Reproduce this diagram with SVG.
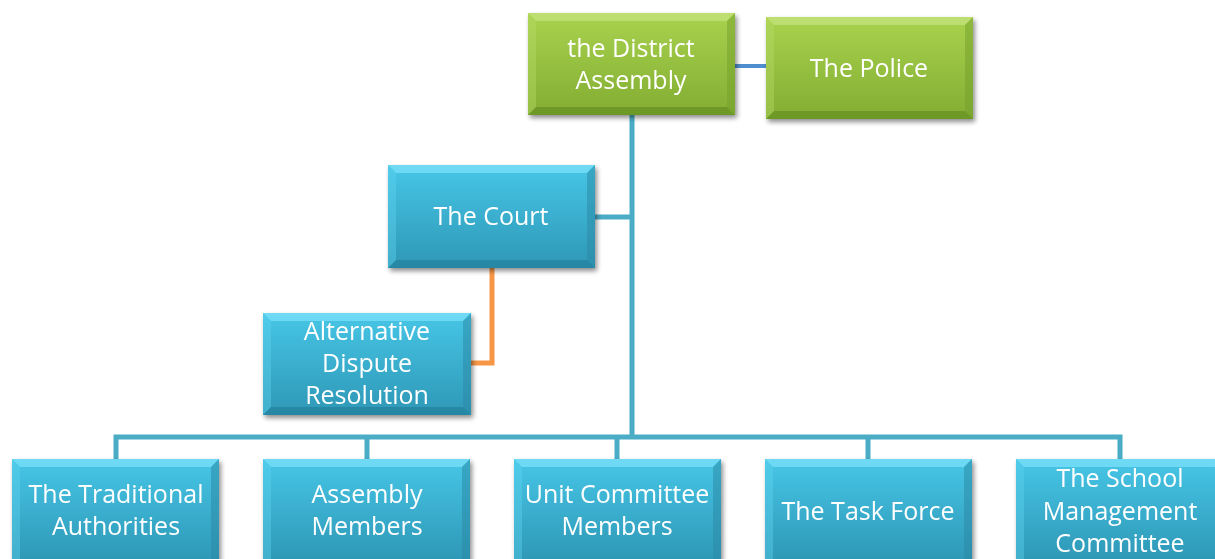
<svg xmlns="http://www.w3.org/2000/svg" width="1215" height="559" viewBox="0 0 1215 559">
<defs>
<linearGradient id="gT" x1="0" y1="0" x2="0" y2="1">
<stop offset="0" stop-color="#47c6e6"/><stop offset="1" stop-color="#2e97b6"/>
</linearGradient>
<linearGradient id="gG" x1="0" y1="0" x2="0" y2="1">
<stop offset="0" stop-color="#a9d24e"/><stop offset="1" stop-color="#82ad32"/>
</linearGradient>
<filter id="sh" x="-10%" y="-10%" width="130%" height="140%">
<feGaussianBlur in="SourceAlpha" stdDeviation="2.5"/>
<feOffset dx="2" dy="3" result="b"/>
<feComponentTransfer><feFuncA type="linear" slope="0.45"/></feComponentTransfer>
<feMerge><feMergeNode/><feMergeNode in="SourceGraphic"/></feMerge>
</filter>
</defs>
<style>
.t{font-family:"Open Sans","Noto Sans",sans-serif;font-size:25px;fill:#ffffff;text-anchor:middle}
.teal{fill:url(#gT)}
.green{fill:url(#gG)}
.hiT{fill:#7fe3fb;opacity:0.7}
.loT{fill:#1f7d98;opacity:0.6}
.sdT{fill:#5fd4f1;opacity:0.4}
.sdT2{fill:#2a88a4;opacity:0.5}
.hiG{fill:#c6e47f;opacity:0.7}
.loG{fill:#5f8a22;opacity:0.6}
.sdG{fill:#b8dc68;opacity:0.4}
.sdG2{fill:#74a02b;opacity:0.5}
.ln{fill:none;stroke:#4bacc6;stroke-width:5}
</style>
<g id="connectors">
<path class="ln" d="M632 115 V437 M595 217 H632 M116 459 V437 H1120 V459 M367 437 V459 M617 437 V459 M868 437 V459"/>
<path d="M735 66 H766" fill="none" stroke="#4f8fcf" stroke-width="4"/>
<path d="M492 268 V363 H471" fill="none" stroke="#f79646" stroke-width="5"/>
</g>
<g id="district" filter="url(#sh)">
<rect x="528" y="13" width="207" height="102" class="green"/>
<polygon points="528,13 735,13 727,21 536,21" class="hiG"/>
<polygon points="528,115 735,115 727,107 536,107" class="loG"/>
<polygon points="528,13 536,21 536,107 528,115" class="sdG"/>
<polygon points="735,13 727,21 727,107 735,115" class="sdG2"/>
<text class="t" x="631" y="57">the District</text>
<text class="t" x="631" y="89">Assembly</text>
</g>
<g id="police" filter="url(#sh)">
<rect x="766" y="17" width="207" height="102" class="green"/>
<polygon points="766,17 973,17 965,25 774,25" class="hiG"/>
<polygon points="766,119 973,119 965,111 774,111" class="loG"/>
<polygon points="766,17 774,25 774,111 766,119" class="sdG"/>
<polygon points="973,17 965,25 965,111 973,119" class="sdG2"/>
<text class="t" x="869" y="77">The Police</text>
</g>
<g id="court" filter="url(#sh)">
<rect x="388" y="165" width="207" height="103" class="teal"/>
<polygon points="388,165 595,165 587,173 396,173" class="hiT"/>
<polygon points="388,268 595,268 587,260 396,260" class="loT"/>
<polygon points="388,165 396,173 396,260 388,268" class="sdT"/>
<polygon points="595,165 587,173 587,260 595,268" class="sdT2"/>
<text class="t" x="491" y="225">The Court</text>
</g>
<g id="adr" filter="url(#sh)">
<rect x="263" y="313" width="208" height="102" class="teal"/>
<polygon points="263,313 471,313 463,321 271,321" class="hiT"/>
<polygon points="263,415 471,415 463,407 271,407" class="loT"/>
<polygon points="263,313 271,321 271,407 263,415" class="sdT"/>
<polygon points="471,313 463,321 463,407 471,415" class="sdT2"/>
<text class="t" x="367" y="340">Alternative</text>
<text class="t" x="367" y="372">Dispute</text>
<text class="t" x="367" y="404">Resolution</text>
</g>
<g id="traditional" filter="url(#sh)">
<rect x="12" y="459" width="207" height="103" class="teal"/>
<polygon points="12,459 219,459 211,467 20,467" class="hiT"/>
<polygon points="12,459 20,467 20,562 12,562" class="sdT"/>
<polygon points="219,459 211,467 211,562 219,562" class="sdT2"/>
<text class="t" x="116" y="503">The Traditional</text>
<text class="t" x="116" y="535">Authorities</text>
</g>
<g id="assembly-members" filter="url(#sh)">
<rect x="263" y="459" width="207" height="103" class="teal"/>
<polygon points="263,459 470,459 462,467 271,467" class="hiT"/>
<polygon points="263,459 271,467 271,562 263,562" class="sdT"/>
<polygon points="470,459 462,467 462,562 470,562" class="sdT2"/>
<text class="t" x="367" y="503">Assembly</text>
<text class="t" x="367" y="535">Members</text>
</g>
<g id="unit-committee" filter="url(#sh)">
<rect x="514" y="459" width="207" height="103" class="teal"/>
<polygon points="514,459 721,459 713,467 522,467" class="hiT"/>
<polygon points="514,459 522,467 522,562 514,562" class="sdT"/>
<polygon points="721,459 713,467 713,562 721,562" class="sdT2"/>
<text class="t" x="617" y="503">Unit Committee</text>
<text class="t" x="617" y="535">Members</text>
</g>
<g id="task-force" filter="url(#sh)">
<rect x="765" y="459" width="207" height="103" class="teal"/>
<polygon points="765,459 972,459 964,467 773,467" class="hiT"/>
<polygon points="765,459 773,467 773,562 765,562" class="sdT"/>
<polygon points="972,459 964,467 964,562 972,562" class="sdT2"/>
<text class="t" x="868" y="520">The Task Force</text>
</g>
<g id="school" filter="url(#sh)">
<rect x="1016" y="459" width="207" height="103" class="teal"/>
<polygon points="1016,459 1223,459 1215,467 1024,467" class="hiT"/>
<polygon points="1016,459 1024,467 1024,562 1016,562" class="sdT"/>
<text class="t" x="1120" y="487">The School</text>
<text class="t" x="1120" y="520">Management</text>
<text class="t" x="1120" y="552">Committee</text>
</g>
</svg>
